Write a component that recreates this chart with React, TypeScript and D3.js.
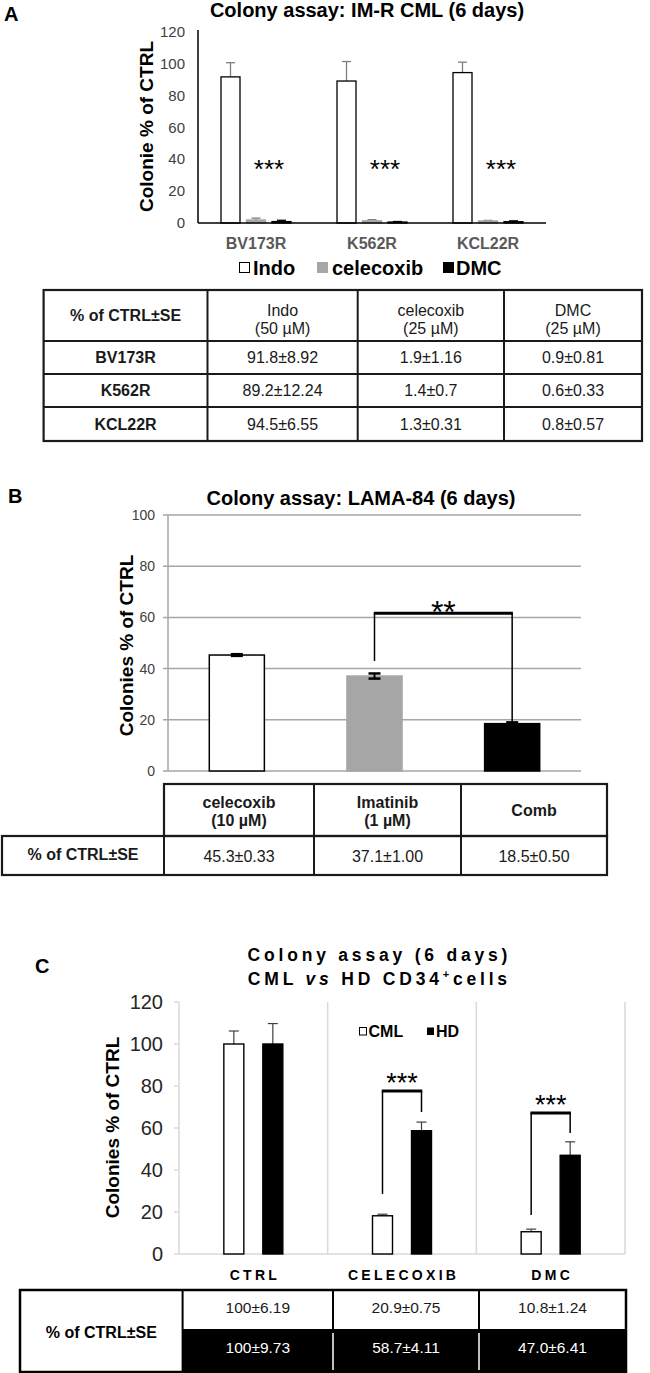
import React from "react";
import * as d3 from "d3";

const FONT = "'Liberation Sans', Arial, Helvetica, sans-serif";

// ---------------- Panel A data ----------------
const categoriesA = ["BV173R", "K562R", "KCL22R"];
const seriesA = ["Indo", "celecoxib", "DMC"];
const indoA = [91.8, 89.2, 94.5];
const indoErrA = [8.92, 12.24, 6.55];
const celecoxibA = [1.9, 1.4, 1.3];
const celecoxibErrA = [1.16, 0.7, 0.31];
const dmcA = [0.9, 0.6, 0.8];
const dmcErrA = [0.81, 0.33, 0.57];
const ticksA = [0, 20, 40, 60, 80, 100, 120];
const signifA = ["***", "***", "***"];
const tableAHeader = [["% of CTRL±SE"], ["Indo", "(50 µM)"], ["celecoxib", "(25 µM)"], ["DMC", "(25 µM)"]];
const tableARows = [
  ["BV173R", "91.8±8.92", "1.9±1.16", "0.9±0.81"],
  ["K562R", "89.2±12.24", "1.4±0.7", "0.6±0.33"],
  ["KCL22R", "94.5±6.55", "1.3±0.31", "0.8±0.57"],
];

// ---------------- Panel B data ----------------
const categoriesB = ["celecoxib", "Imatinib", "Comb"];
const valuesB = [45.3, 37.1, 18.5];
const errorsB = [0.33, 1.0, 0.5];
const ticksB = [0, 20, 40, 60, 80, 100];
const tableBHeader = [["celecoxib", "(10 µM)"], ["Imatinib", "(1 µM)"], ["Comb"]];
const tableBRowLabel = "% of CTRL±SE";
const tableBValues = ["45.3±0.33", "37.1±1.00", "18.5±0.50"];
const bracketB = { from: "Imatinib", to: "Comb", top: 61.6, fromEnd: 43, toEnd: 19, label: "**" };

// ---------------- Panel C data ----------------
const categoriesC = ["CTRL", "CELECOXIB", "DMC"];
const seriesC = ["CML", "HD"];
const cmlC = [100, 18.2, 10.6];
const cmlErrC = [6.19, 0.75, 1.24];
const hdC = [100, 58.7, 47.0];
const hdErrC = [9.73, 4.11, 6.41];
const ticksC = [0, 20, 40, 60, 80, 100, 120];
const tableCRowLabel = "% of CTRL±SE";
const tableCCml = ["100±6.19", "20.9±0.75", "10.8±1.24"];
const tableCHd = ["100±9.73", "58.7±4.11", "47.0±6.41"];
const bracketsC = [
  { cat: "CELECOXIB", top: 77.6, cmlEnd: 28.6, hdEnd: 67.6, label: "***" },
  { cat: "DMC", top: 67.1, cmlEnd: 18.6, hdEnd: 57.6, label: "***" },
];

// ---------------- scales ----------------
const xA = d3.scaleBand<string>().domain(categoriesA).range([198, 546]);
const yA = d3.scaleLinear().domain([0, 120]).range([223, 32]);
const sA = d3.scalePoint<string>().domain(seriesA).range([-25.5, 25.5]);
const barWA = 19;

const xB = d3.scaleBand<string>().domain(categoriesB).range([168, 581]).paddingInner(0.6).paddingOuter(0.3);
const yB = d3.scaleLinear().domain([0, 100]).range([771, 515]);

const xC = d3.scaleBand<string>().domain(categoriesC).range([179, 625]);
const yC = d3.scaleLinear().domain([0, 120]).range([1254, 1002]);
const sC = d3.scalePoint<string>().domain(seriesC).range([-19.5, 19.5]);
const barWC = 20;

const seriesStyleA = [
  { name: "Indo", vals: indoA, errs: indoErrA, fill: "#ffffff", stroke: "#000000", err: "#7f7f7f" },
  { name: "celecoxib", vals: celecoxibA, errs: celecoxibErrA, fill: "#a6a6a6", stroke: "#a6a6a6", err: "#7f7f7f" },
  { name: "DMC", vals: dmcA, errs: dmcErrA, fill: "#000000", stroke: "#000000", err: "#000000" },
];

const seriesStyleC = [
  { name: "CML", vals: cmlC, errs: cmlErrC, fill: "#ffffff", stroke: "#000000" },
  { name: "HD", vals: hdC, errs: hdErrC, fill: "#000000", stroke: "#000000" },
];

const fillB = ["#ffffff", "#a6a6a6", "#000000"];
const strokeB = ["#000000", "#a6a6a6", "#000000"];

function PanelA() {
  const bw = xA.bandwidth();
  const cx = (c: string) => (xA(c) as number) + bw / 2;
  return (
    <g>
      <text x={4} y={21} fontSize={20} fontWeight="bold">A</text>
      <text x={367} y={17} textAnchor="middle" fontSize={20} fontWeight="bold">Colony assay: IM-R CML (6 days)</text>
      {ticksA.map((t) => (
        <text key={t} x={185} y={yA(t) + 5} textAnchor="end" fontSize={15} fill="#404040">{t}</text>
      ))}
      <text transform={`translate(146,126.5) rotate(-90)`} textAnchor="middle" dy="0.36em" fontSize={19} fontWeight="bold">Colonie % of CTRL</text>
      {seriesStyleA.map((s) =>
        categoriesA.map((c, i) => {
          const x = cx(c) + (sA(s.name) as number);
          const v = s.vals[i];
          const e = s.errs[i];
          return (
            <g key={s.name + c}>
              <line x1={x} x2={x} y1={yA(v)} y2={yA(v + e)} stroke={s.err} strokeWidth={1.3} />
              <line x1={x - 4.5} x2={x + 4.5} y1={yA(v + e)} y2={yA(v + e)} stroke={s.err} strokeWidth={1.3} />
              <rect x={x - barWA / 2} y={yA(v)} width={barWA} height={yA(0) - yA(v)} fill={s.fill} stroke={s.stroke} strokeWidth={1.3} />
            </g>
          );
        })
      )}
      <line x1={198} x2={198} y1={yA(120) - 2} y2={yA(0)} stroke="#000" strokeWidth={1.5} />
      <line x1={198} x2={546} y1={yA(0)} y2={yA(0)} stroke="#000" strokeWidth={1.5} />
      {categoriesA.map((c, i) => (
        <text key={c + "s"} x={cx(c) + 13} y={178} textAnchor="middle" fontSize={26}>{signifA[i]}</text>
      ))}
      {categoriesA.map((c) => (
        <text key={c} x={cx(c)} y={249} textAnchor="middle" fontSize={16} fontWeight="bold" fill="#595959">{c}</text>
      ))}
      {/* legend */}
      <rect x={239.5} y={262.5} width={10} height={10} fill="#fff" stroke="#000" strokeWidth={1} />
      <text x={253} y={275} fontSize={20} fontWeight="bold">{seriesA[0]}</text>
      <rect x={317} y={262} width={11} height={11} fill="#a6a6a6" />
      <text x={332} y={275} fontSize={20} fontWeight="bold">{seriesA[1]}</text>
      <rect x={443} y={262} width={11} height={11} fill="#000" />
      <text x={456} y={275} fontSize={20} fontWeight="bold">{seriesA[2]}</text>
    </g>
  );
}

function TableA() {
  const cols = [43.6, 207.5, 357.7, 504, 642];
  const rows = [290, 341, 374, 407, 441];
  const mid = (a: number[], i: number) => (a[i] + a[i + 1]) / 2;
  return (
    <g>
      <rect x={cols[0]} y={rows[0]} width={cols[4] - cols[0]} height={rows[4] - rows[0]} fill="none" stroke="#1a1a1a" strokeWidth={2.2} />
      {cols.slice(1, 4).map((x) => (
        <line key={x} x1={x} x2={x} y1={rows[0]} y2={rows[4]} stroke="#1a1a1a" strokeWidth={2} />
      ))}
      {rows.slice(1, 4).map((y) => (
        <line key={y} x1={cols[0]} x2={cols[4]} y1={y} y2={y} stroke="#1a1a1a" strokeWidth={2} />
      ))}
      {tableAHeader.map((lines, j) => {
        const cy = mid(rows, 0);
        if (lines.length === 1)
          return (
            <text key={j} x={mid(cols, j)} y={cy + 5.5} textAnchor="middle" fontSize={16} fontWeight="bold" fill="#1a1a1a">{lines[0]}</text>
          );
        return (
          <g key={j}>
            <text x={mid(cols, j)} y={cy} textAnchor="middle" fontSize={16} fill="#1a1a1a">{lines[0]}</text>
            <text x={mid(cols, j)} y={cy + 18} textAnchor="middle" fontSize={16} fill="#1a1a1a">{lines[1]}</text>
          </g>
        );
      })}
      {tableARows.map((r, i) =>
        r.map((cell, j) => (
          <text key={i + "-" + j} x={mid(cols, j)} y={mid(rows, i + 1) + 5.5} textAnchor="middle" fontSize={16} fontWeight={j === 0 ? "bold" : "normal"} fill="#1a1a1a">{cell}</text>
        ))
      )}
    </g>
  );
}

function PanelB() {
  const bw = xB.bandwidth();
  const cx = (c: string) => (xB(c) as number) + bw / 2;
  const x1 = cx(bracketB.from);
  const x2 = cx(bracketB.to);
  return (
    <g>
      <text x={8} y={503} fontSize={20} fontWeight="bold">B</text>
      <text x={361} y={505} textAnchor="middle" fontSize={20} fontWeight="bold">Colony assay: LAMA-84 (6 days)</text>
      {ticksB.map((t) => (
        <g key={t}>
          <line x1={163} x2={581} y1={yB(t)} y2={yB(t)} stroke="#a6a6a6" strokeWidth={1.5} />
          <text x={155} y={yB(t) + 5} textAnchor="end" fontSize={14} fill="#404040">{t}</text>
        </g>
      ))}
      <line x1={168} x2={168} y1={yB(100)} y2={yB(0)} stroke="#a6a6a6" strokeWidth={1.5} />
      <text transform={`translate(126.5,645.5) rotate(-90)`} textAnchor="middle" dy="0.36em" fontSize={19} fontWeight="bold">Colonies % of CTRL</text>
      {categoriesB.map((c, i) => {
        const x = cx(c);
        const v = valuesB[i];
        const e = errorsB[i];
        return (
          <g key={c}>
            <rect x={xB(c)} y={yB(v)} width={bw} height={yB(0) - yB(v)} fill={fillB[i]} stroke={strokeB[i]} strokeWidth={1.5} />
            <line x1={x} x2={x} y1={yB(v - e)} y2={yB(v + e)} stroke="#000" strokeWidth={2} />
            <line x1={x - 6} x2={x + 6} y1={yB(v + e)} y2={yB(v + e)} stroke="#000" strokeWidth={2.5} />
            <line x1={x - 6} x2={x + 6} y1={yB(v - e)} y2={yB(v - e)} stroke="#000" strokeWidth={2.5} />
          </g>
        );
      })}
      {/* significance bracket */}
      <line x1={x1} x2={x1} y1={yB(bracketB.top)} y2={yB(bracketB.fromEnd)} stroke="#000" strokeWidth={1.5} />
      <line x1={x2} x2={x2} y1={yB(bracketB.top)} y2={yB(bracketB.toEnd)} stroke="#000" strokeWidth={1.5} />
      <line x1={x1 - 0.75} x2={x2 + 0.75} y1={yB(bracketB.top)} y2={yB(bracketB.top)} stroke="#000" strokeWidth={3} />
      <text x={(x1 + x2) / 2} y={623} textAnchor="middle" fontSize={32}>{bracketB.label}</text>
    </g>
  );
}

function TableB() {
  const cols = [164, 314, 461, 607];
  const y0 = 784, y1 = 836, y2 = 875;
  const left = 2;
  const mid = (i: number) => (cols[i] + cols[i + 1]) / 2;
  const st = "#1a1a1a";
  return (
    <g>
      <rect x={cols[0]} y={y0} width={cols[3] - cols[0]} height={y1 - y0} fill="none" stroke={st} strokeWidth={2.2} />
      <rect x={left} y={y1} width={cols[3] - left} height={y2 - y1} fill="none" stroke={st} strokeWidth={2.2} />
      {cols.slice(1, 3).map((x) => (
        <line key={x} x1={x} x2={x} y1={y0} y2={y2} stroke={st} strokeWidth={2} />
      ))}
      <line x1={cols[0]} x2={cols[0]} y1={y1} y2={y2} stroke={st} strokeWidth={2} />
      {tableBHeader.map((lines, j) => {
        const cy = (y0 + y1) / 2;
        if (lines.length === 1)
          return (
            <text key={j} x={mid(j)} y={cy + 5.5} textAnchor="middle" fontSize={16} fontWeight="bold" fill={st}>{lines[0]}</text>
          );
        return (
          <g key={j}>
            <text x={mid(j)} y={cy - 2} textAnchor="middle" fontSize={16} fontWeight="bold" fill={st}>{lines[0]}</text>
            <text x={mid(j)} y={cy + 16} textAnchor="middle" fontSize={16} fontWeight="bold" fill={st}>{lines[1]}</text>
          </g>
        );
      })}
      <text x={(left + cols[0]) / 2} y={(y1 + y2) / 2 + 4} textAnchor="middle" fontSize={16} fontWeight="bold" fill={st}>{tableBRowLabel}</text>
      {tableBValues.map((v, j) => (
        <text key={v} x={mid(j)} y={(y1 + y2) / 2 + 6.5} textAnchor="middle" fontSize={16} fill={st}>{v}</text>
      ))}
    </g>
  );
}

function PanelC() {
  const bw = xC.bandwidth();
  const cx = (c: string) => (xC(c) as number) + bw / 2;
  const grid = "#d9d9d9";
  return (
    <g>
      <text x={35} y={973} fontSize={20} fontWeight="bold">C</text>
      <text x={377.5} y={960.5} dx={1.9} textAnchor="middle" fontSize={17.5} fontWeight="bold" letterSpacing={3.8}>Colony assay (6 days)</text>
      <text x={377.5} y={984.5} dx={1.9} textAnchor="middle" fontSize={17.5} fontWeight="bold" letterSpacing={3.8}>
        CML <tspan fontStyle="italic">vs</tspan> HD CD34<tspan dy={-7} fontSize={11}>+</tspan><tspan dy={7}>cells</tspan>
      </text>
      {ticksC.map((t) => (
        <g key={t}>
          <line x1={174} x2={179} y1={yC(t)} y2={yC(t)} stroke={grid} strokeWidth={1.5} />
          <text x={163} y={yC(t) + 7} textAnchor="end" fontSize={20} fill="#262626">{t}</text>
        </g>
      ))}
      <line x1={179} x2={179} y1={yC(120)} y2={yC(0)} stroke={grid} strokeWidth={1.5} />
      {categoriesC.map((c) => (
        <line key={c + "g"} x1={(xC(c) as number) + bw} x2={(xC(c) as number) + bw} y1={yC(120)} y2={yC(0)} stroke={grid} strokeWidth={1.5} />
      ))}
      <line x1={179} x2={625} y1={yC(0)} y2={yC(0)} stroke={grid} strokeWidth={1.5} />
      <text transform={`translate(112,1127.5) rotate(-90)`} textAnchor="middle" dy="0.36em" fontSize={19} fontWeight="bold">Colonies % of CTRL</text>
      {seriesStyleC.map((s) =>
        categoriesC.map((c, i) => {
          const x = cx(c) + (sC(s.name) as number);
          const v = s.vals[i];
          const e = s.errs[i];
          return (
            <g key={s.name + c}>
              <line x1={x} x2={x} y1={yC(v)} y2={yC(v + e)} stroke="#404040" strokeWidth={1.2} />
              <line x1={x - 5} x2={x + 5} y1={yC(v + e)} y2={yC(v + e)} stroke="#404040" strokeWidth={1.2} />
              <rect x={x - barWC / 2} y={yC(v)} width={barWC} height={yC(0) - yC(v)} fill={s.fill} stroke={s.stroke} strokeWidth={1.4} />
            </g>
          );
        })
      )}
      {bracketsC.map((b) => {
        const xl = cx(b.cat) + (sC("CML") as number);
        const xr = cx(b.cat) + (sC("HD") as number);
        return (
          <g key={b.cat}>
            <line x1={xl} x2={xl} y1={yC(b.top)} y2={yC(b.cmlEnd)} stroke="#000" strokeWidth={1.5} />
            <line x1={xr} x2={xr} y1={yC(b.top)} y2={yC(b.hdEnd)} stroke="#000" strokeWidth={1.5} />
            <line x1={xl - 0.75} x2={xr + 0.75} y1={yC(b.top)} y2={yC(b.top)} stroke="#000" strokeWidth={3} />
            <text x={(xl + xr) / 2} y={yC(b.top) - 13 + 0.58 * 27 - 2} textAnchor="middle" fontSize={27}>{b.label}</text>
          </g>
        );
      })}
      {/* legend */}
      <rect x={359.5} y={1027.5} width={7} height={7.5} fill="#fff" stroke="#000" strokeWidth={1} />
      <text x={368.5} y={1037} fontSize={16} fontWeight="bold">{seriesC[0]}</text>
      <rect x={427} y={1027.5} width={7} height={7.5} fill="#000" />
      <text x={436} y={1037} fontSize={16} fontWeight="bold">{seriesC[1]}</text>
      {categoriesC.map((c) => (
        <text key={c} x={cx(c)} dx={1.6} y={1280} textAnchor="middle" fontSize={14} fontWeight="bold" letterSpacing={3.3}>{c}</text>
      ))}
    </g>
  );
}

function TableC() {
  const x0 = 20, xL = 182.6, x3 = 626;
  const cols = [xL, 333, 479, x3];
  const y0 = 1290, y1 = 1330, y2 = 1372;
  const mid = (i: number) => (cols[i] + cols[i + 1]) / 2;
  return (
    <g>
      <rect x={xL} y={y1} width={x3 - xL} height={y2 - y1} fill="#000" />
      <rect x={x0} y={y0} width={x3 - x0} height={y2 - y0} fill="none" stroke="#000" strokeWidth={2.5} />
      <line x1={xL} x2={xL} y1={y0} y2={y2} stroke="#000" strokeWidth={2} />
      <line x1={xL} x2={x3} y1={y1} y2={y1} stroke="#000" strokeWidth={2} />
      {[cols[1], cols[2]].map((x) => (
        <g key={x}>
          <line x1={x} x2={x} y1={y0} y2={y1} stroke="#000" strokeWidth={2} />
          <line x1={x} x2={x} y1={y1 + 3} y2={y2 - 2} stroke="#fff" strokeWidth={1.5} />
        </g>
      ))}
      <text x={(x0 + xL) / 2} y={1338} textAnchor="middle" fontSize={16} fontWeight="bold">{tableCRowLabel}</text>
      {tableCCml.map((v, j) => (
        <text key={v} x={mid(j)} y={1313} textAnchor="middle" fontSize={15.5} fill="#1a1a1a">{v}</text>
      ))}
      {tableCHd.map((v, j) => (
        <text key={v} x={mid(j)} y={1353} textAnchor="middle" fontSize={15.5} fill="#ffffff">{v}</text>
      ))}
    </g>
  );
}

export default function App() {
  return (
    <div style={{ width: 650, height: 1373 }}>
      <style>{"html,body{margin:0;padding:0;background:#fff}"}</style>
      <svg width={650} height={1373} style={{ display: "block" }} fontFamily={FONT}>
        <rect x={0} y={0} width={650} height={1373} fill="#fff" />
        <PanelA />
        <TableA />
        <PanelB />
        <TableB />
        <PanelC />
        <TableC />
      </svg>
    </div>
  );
}
